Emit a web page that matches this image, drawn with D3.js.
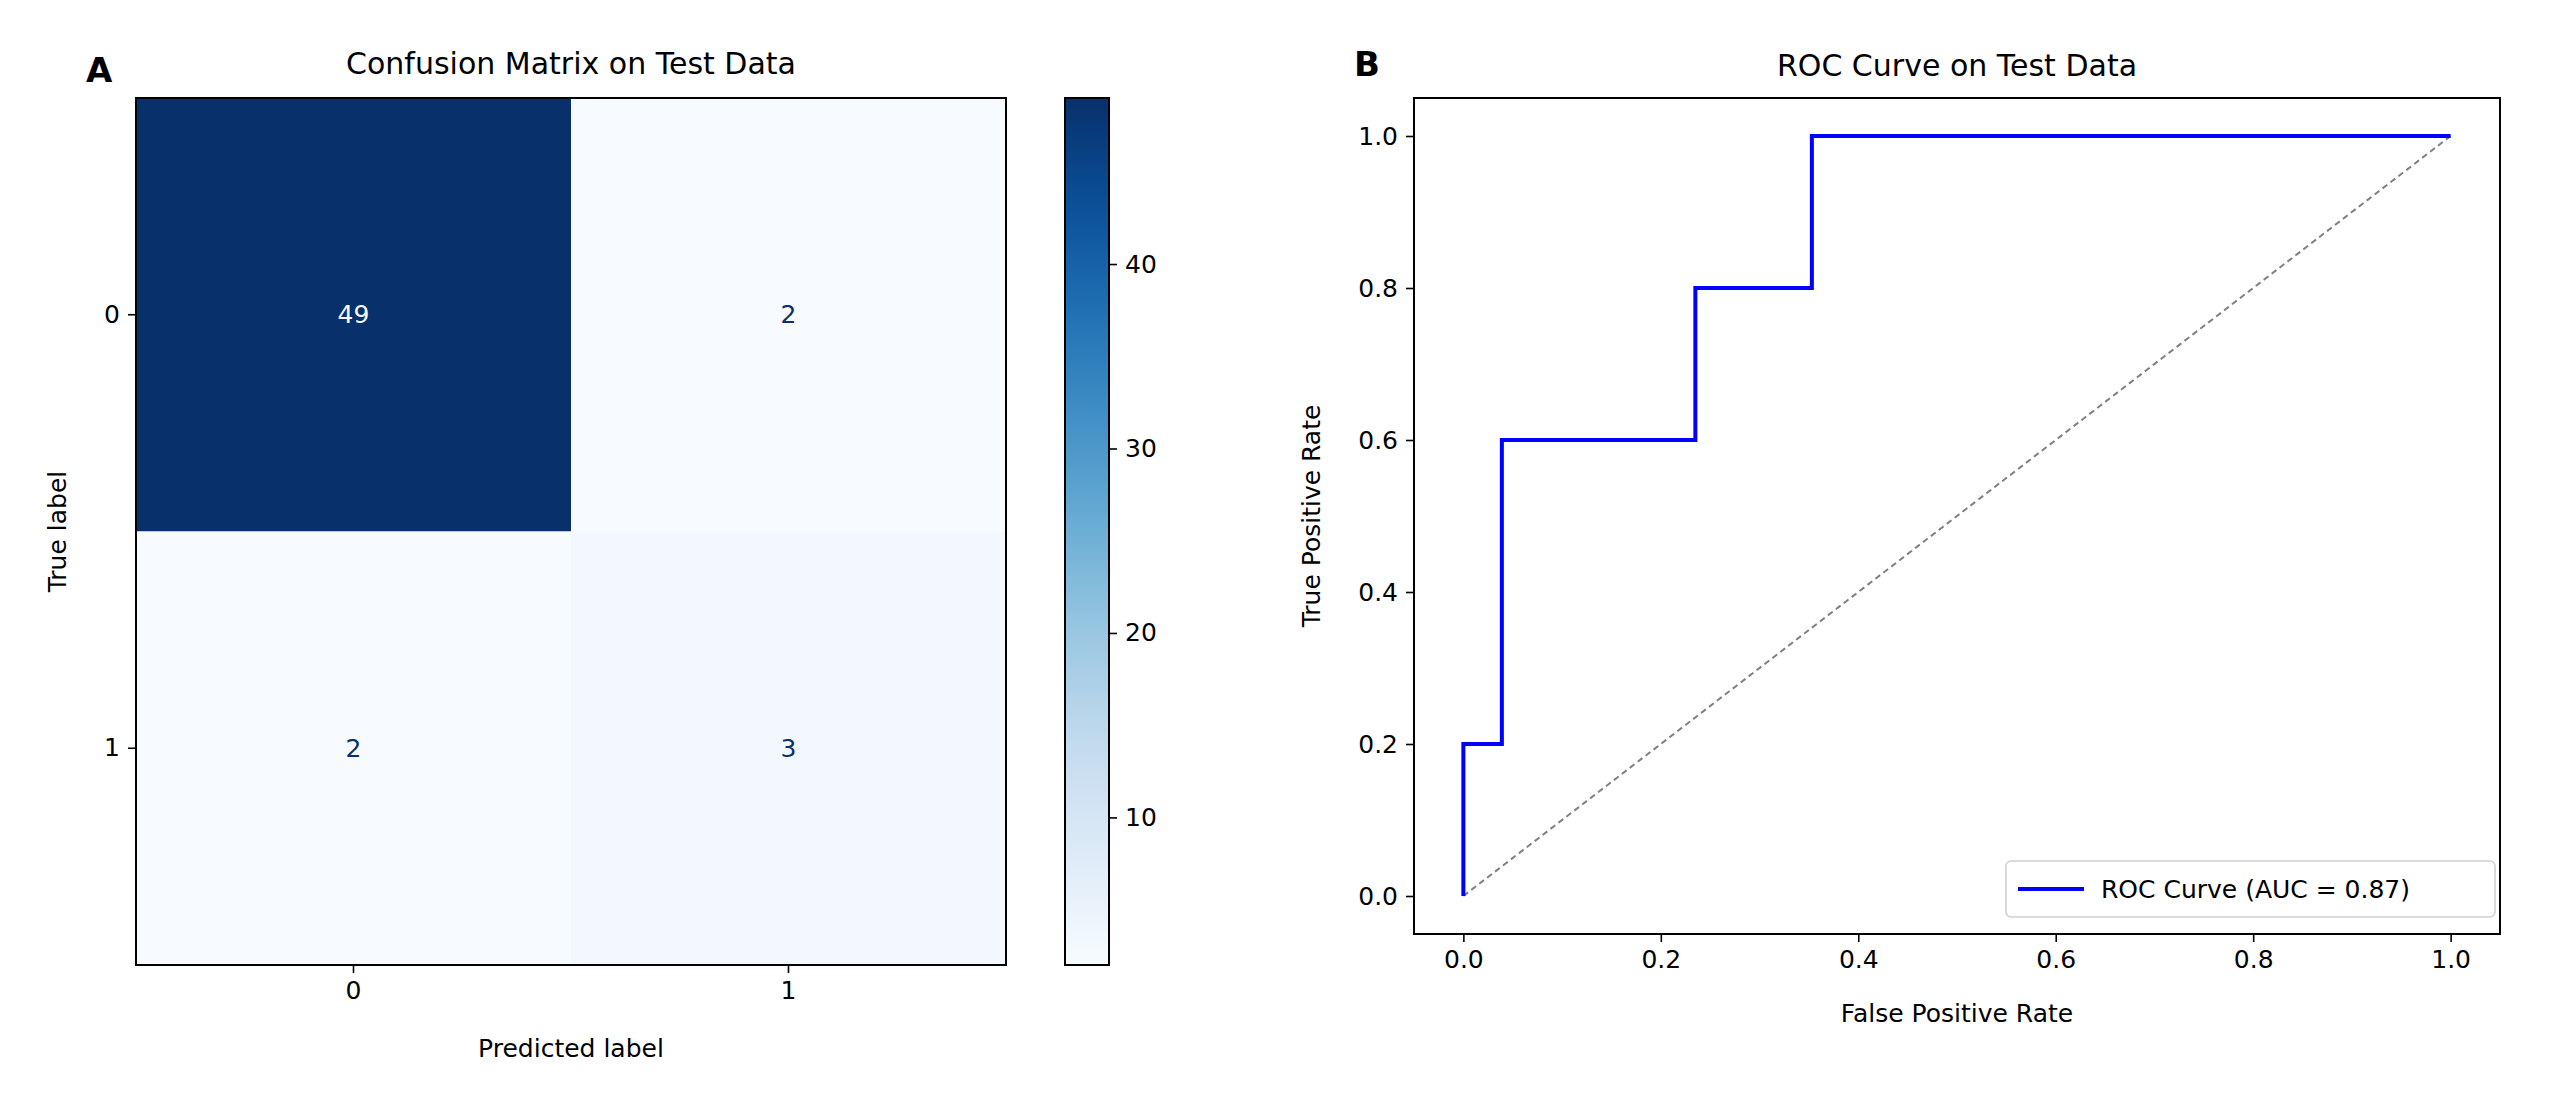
<!DOCTYPE html>
<html><head><meta charset="utf-8">
<script src="https://cdn.jsdelivr.net/npm/d3@7"></script>
<style>body{margin:0;background:#fff}text{font-family:"DejaVu Sans",sans-serif;fill:#000}</style>
</head><body>
<svg id="fig" width="2560" height="1111"></svg>
<script>
// confusion matrix data
var classes = ["0", "1"];
var matrix = [[49, 2], [2, 3]];
var cbarTicks = [10, 20, 30, 40];
// roc data
var fpr = [0, 0, 0.039, 0.039, 0.235, 0.235, 0.353, 0.353, 1.0];
var tpr = [0, 0.2, 0.2, 0.6, 0.6, 0.8, 0.8, 1.0, 1.0];
var rocTicks = [0, 0.2, 0.4, 0.6, 0.8, 1.0];
var aucLabel = "ROC Curve (AUC = 0.87)";

var svg = d3.select("#fig");
var fs = 25;

// ---------- panel A ----------
var A = {l: 136, r: 1006, t: 98, b: 965};
var flat = [];
matrix.forEach(function(row, i){ row.forEach(function(v, j){ flat.push({i: i, j: j, v: v}); }); });
var vmin = d3.min(flat, function(d){return d.v}), vmax = d3.max(flat, function(d){return d.v});
var color = d3.scaleSequential(d3.interpolateBlues).domain([vmin, vmax]);
var xb = d3.scaleBand().domain(classes).range([A.l, A.r]);
var yb = d3.scaleBand().domain(classes).range([A.t, A.b]);

var gA = svg.append("g");
gA.selectAll("rect.cell").data(flat).enter().append("rect")
  .attr("x", function(d){return xb(classes[d.j])}).attr("y", function(d){return yb(classes[d.i])})
  .attr("width", xb.bandwidth()).attr("height", yb.bandwidth())
  .style("fill", function(d){return color(d.v)});
gA.selectAll("text.val").data(flat).enter().append("text")
  .attr("x", function(d){return xb(classes[d.j]) + xb.bandwidth()/2})
  .attr("y", function(d){return yb(classes[d.i]) + yb.bandwidth()/2})
  .attr("text-anchor", "middle").attr("dominant-baseline", "central")
  .style("font-size", fs + "px")
  .style("fill", function(d){return d.v > (vmin + vmax)/2 ? color(vmin) : color(vmax)})
  .text(function(d){return d.v});
gA.append("rect").attr("x", A.l).attr("y", A.t).attr("width", A.r - A.l).attr("height", A.b - A.t)
  .style("fill", "none").style("stroke", "#000").style("stroke-width", 2);

var axA = gA.append("g").attr("transform", "translate(0," + A.b + ")")
  .call(d3.axisBottom(xb).tickSize(8).tickPadding(8));
var ayA = gA.append("g").attr("transform", "translate(" + A.l + ",0)")
  .call(d3.axisLeft(yb).tickSize(8).tickPadding(8));
[axA, ayA].forEach(function(a){
  a.select(".domain").remove();
  a.selectAll("text").style("font-size", fs + "px").style("font-family", "DejaVu Sans");
  a.selectAll("line").style("stroke-width", 1.6);
});
gA.append("text").attr("x", (A.l + A.r)/2).attr("y", 1057).attr("text-anchor", "middle").style("font-size", fs + "px").text("Predicted label");
gA.append("text").attr("transform", "translate(57," + (A.t + A.b)/2 + ") rotate(-90)").attr("text-anchor", "middle").attr("dy", "0.35em").style("font-size", fs + "px").text("True label");
gA.append("text").attr("x", (A.l + A.r)/2).attr("y", 74).attr("text-anchor", "middle").style("font-size", "30px").text("Confusion Matrix on Test Data");
gA.append("text").attr("x", 86).attr("y", 82).style("font-size", "34px").style("font-weight", "bold").text("A");

// colorbar
var cb = {l: 1065, r: 1109};
var cy = d3.scaleLinear().domain([vmin, vmax]).range([A.b, A.t]);
var defs = svg.append("defs");
var grad = defs.append("linearGradient").attr("id", "cbg").attr("x1", 0).attr("y1", 1).attr("x2", 0).attr("y2", 0);
d3.range(0, 1.0001, 0.05).forEach(function(t){
  grad.append("stop").attr("offset", t).attr("stop-color", d3.interpolateBlues(t));
});
gA.append("rect").attr("x", cb.l).attr("y", A.t).attr("width", cb.r - cb.l).attr("height", A.b - A.t)
  .style("fill", "url(#cbg)").style("stroke", "#000").style("stroke-width", 2);
var acb = gA.append("g").attr("transform", "translate(" + cb.r + ",0)")
  .call(d3.axisRight(cy).tickValues(cbarTicks).tickSize(8).tickPadding(8));
acb.select(".domain").remove();
acb.selectAll("text").style("font-size", fs + "px").style("font-family", "DejaVu Sans");
acb.selectAll("line").style("stroke-width", 1.6);

// ---------- panel B ----------
var B = {l: 1414, r: 2500, t: 98, b: 934};
var x = d3.scaleLinear().domain([-0.05, 1.05]).range([B.l, B.r]);
var y = d3.scaleLinear().domain([-0.05, 1.05]).range([B.b, B.t]);
var gB = svg.append("g");
gB.append("line").attr("x1", x(0)).attr("y1", y(0)).attr("x2", x(1)).attr("y2", y(1))
  .style("stroke", "#808080").style("stroke-width", 2).style("stroke-dasharray", "6,4");
gB.append("path").datum(d3.range(fpr.length))
  .attr("d", d3.line().x(function(i){return x(fpr[i])}).y(function(i){return y(tpr[i])}))
  .style("fill", "none").style("stroke", "#0000ff").style("stroke-width", 4);
gB.append("rect").attr("x", B.l).attr("y", B.t).attr("width", B.r - B.l).attr("height", B.b - B.t)
  .style("fill", "none").style("stroke", "#000").style("stroke-width", 2);
var axB = gB.append("g").attr("transform", "translate(0," + B.b + ")")
  .call(d3.axisBottom(x).tickValues(rocTicks).tickFormat(d3.format(".1f")).tickSize(8).tickPadding(8));
var ayB = gB.append("g").attr("transform", "translate(" + B.l + ",0)")
  .call(d3.axisLeft(y).tickValues(rocTicks).tickFormat(d3.format(".1f")).tickSize(8).tickPadding(8));
[axB, ayB].forEach(function(a){
  a.select(".domain").remove();
  a.selectAll("text").style("font-size", fs + "px").style("font-family", "DejaVu Sans");
  a.selectAll("line").style("stroke-width", 1.6);
});
gB.append("text").attr("x", (B.l + B.r)/2).attr("y", 1022).attr("text-anchor", "middle").style("font-size", fs + "px").text("False Positive Rate");
gB.append("text").attr("transform", "translate(1311," + (B.t + B.b)/2 + ") rotate(-90)").attr("text-anchor", "middle").attr("dy", "0.35em").style("font-size", fs + "px").text("True Positive Rate");
gB.append("text").attr("x", (B.l + B.r)/2).attr("y", 76).attr("text-anchor", "middle").style("font-size", "30px").text("ROC Curve on Test Data");
gB.append("text").attr("x", 1354).attr("y", 76).style("font-size", "34px").style("font-weight", "bold").text("B");

// legend
var lg = gB.append("g").attr("transform", "translate(2006,861)");
lg.append("rect").attr("width", 489).attr("height", 56).attr("rx", 5)
  .style("fill", "#fff").style("fill-opacity", 0.8).style("stroke", "#d0d0d0").style("stroke-width", 1.6);
lg.append("line").attr("x1", 12).attr("x2", 78).attr("y1", 28).attr("y2", 28).style("stroke", "#0000ff").style("stroke-width", 4);
lg.append("text").attr("x", 95).attr("y", 28).attr("dy", "0.35em").style("font-size", fs + "px").text(aucLabel);
</script>
</body></html>
